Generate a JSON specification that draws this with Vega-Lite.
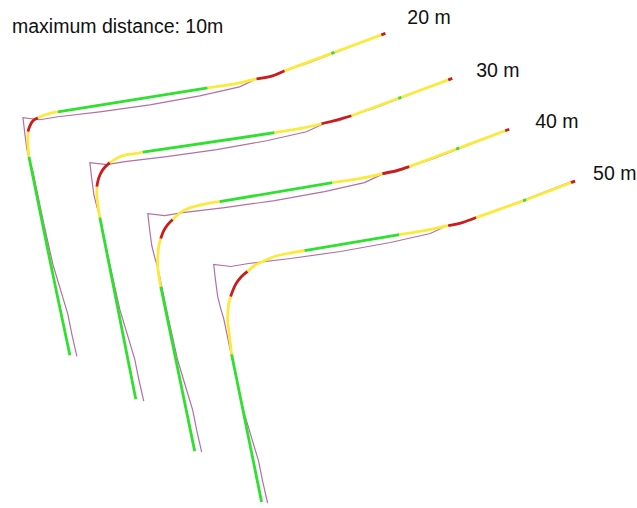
{
  "$schema": "https://vega.github.io/schema/vega-lite/v6.json",
  "width": 637,
  "height": 508,
  "autosize": {"type": "fit", "contains": "padding"},
  "padding": 0,
  "background": "white",
  "config": {"view": {"stroke": null}},
  "datasets": {
    "track": [
      {"c":1,"o":1,"x":77,"y":357},{"c":1,"o":2,"x":72,"y":335},{"c":1,"o":3,"x":68,"y":315},{"c":1,"o":4,"x":62,"y":295},{"c":1,"o":5,"x":53,"y":265},{"c":1,"o":6,"x":43,"y":220},{"c":1,"o":7,"x":33,"y":172},{"c":1,"o":8,"x":30,"y":162},{"c":1,"o":9,"x":27,"y":150},{"c":1,"o":10,"x":25,"y":135},{"c":1,"o":11,"x":23,"y":118},{"c":1,"o":12,"x":40,"y":120},{"c":1,"o":13,"x":58,"y":117},{"c":1,"o":14,"x":100,"y":112},{"c":1,"o":15,"x":150,"y":105},{"c":1,"o":16,"x":200,"y":96},{"c":1,"o":17,"x":240,"y":87},{"c":1,"o":18,"x":257,"y":79},{"c":1,"o":19,"x":273,"y":76},{"c":1,"o":20,"x":285,"y":71},{"c":1,"o":21,"x":309,"y":63},{"c":1,"o":22,"x":384,"y":34},
      {"c":2,"o":1,"x":144,"y":402},{"c":2,"o":2,"x":139,"y":380},{"c":2,"o":3,"x":135,"y":360},{"c":2,"o":4,"x":129,"y":340},{"c":2,"o":5,"x":120,"y":310},{"c":2,"o":6,"x":110,"y":265},{"c":2,"o":7,"x":100,"y":217},{"c":2,"o":8,"x":97,"y":207},{"c":2,"o":9,"x":94,"y":195},{"c":2,"o":10,"x":92,"y":180},{"c":2,"o":11,"x":90,"y":163},{"c":2,"o":12,"x":107,"y":165},{"c":2,"o":13,"x":125,"y":162},{"c":2,"o":14,"x":167,"y":157},{"c":2,"o":15,"x":217,"y":150},{"c":2,"o":16,"x":267,"y":141},{"c":2,"o":17,"x":307,"y":132},{"c":2,"o":18,"x":324,"y":124},{"c":2,"o":19,"x":340,"y":121},{"c":2,"o":20,"x":352,"y":116},{"c":2,"o":21,"x":376,"y":108},{"c":2,"o":22,"x":451,"y":79},
      {"c":3,"o":1,"x":202,"y":453},{"c":3,"o":2,"x":197,"y":431},{"c":3,"o":3,"x":193,"y":411},{"c":3,"o":4,"x":187,"y":391},{"c":3,"o":5,"x":178,"y":361},{"c":3,"o":6,"x":168,"y":316},{"c":3,"o":7,"x":158,"y":268},{"c":3,"o":8,"x":155,"y":258},{"c":3,"o":9,"x":152,"y":246},{"c":3,"o":10,"x":150,"y":231},{"c":3,"o":11,"x":148,"y":214},{"c":3,"o":12,"x":165,"y":216},{"c":3,"o":13,"x":183,"y":213},{"c":3,"o":14,"x":225,"y":208},{"c":3,"o":15,"x":275,"y":201},{"c":3,"o":16,"x":325,"y":192},{"c":3,"o":17,"x":365,"y":183},{"c":3,"o":18,"x":382,"y":175},{"c":3,"o":19,"x":398,"y":172},{"c":3,"o":20,"x":410,"y":167},{"c":3,"o":21,"x":434,"y":159},{"c":3,"o":22,"x":509,"y":130},
      {"c":4,"o":1,"x":268,"y":504},{"c":4,"o":2,"x":263,"y":482},{"c":4,"o":3,"x":259,"y":462},{"c":4,"o":4,"x":253,"y":442},{"c":4,"o":5,"x":244,"y":412},{"c":4,"o":6,"x":234,"y":367},{"c":4,"o":7,"x":224,"y":319},{"c":4,"o":8,"x":221,"y":309},{"c":4,"o":9,"x":218,"y":297},{"c":4,"o":10,"x":216,"y":282},{"c":4,"o":11,"x":214,"y":265},{"c":4,"o":12,"x":231,"y":267},{"c":4,"o":13,"x":249,"y":264},{"c":4,"o":14,"x":291,"y":259},{"c":4,"o":15,"x":341,"y":252},{"c":4,"o":16,"x":391,"y":243},{"c":4,"o":17,"x":431,"y":234},{"c":4,"o":18,"x":448,"y":226},{"c":4,"o":19,"x":464,"y":223},{"c":4,"o":20,"x":476,"y":218},{"c":4,"o":21,"x":500,"y":210},{"c":4,"o":22,"x":575,"y":181}
    ],
    "smooth": [
      {"s":"1a","k":"G","o":1,"x":70,"y":356},{"s":"1a","k":"G","o":2,"x":49,"y":256},{"s":"1a","k":"G","o":3,"x":29,"y":157},
      {"s":"1b","k":"Y","o":1,"x":29,"y":157},{"s":"1b","k":"Y","o":2,"x":28,"y":145},{"s":"1b","k":"Y","o":3,"x":28,"y":132},
      {"s":"1c","k":"R","o":1,"x":28,"y":132},{"s":"1c","k":"R","o":2,"x":30,"y":126},{"s":"1c","k":"R","o":3,"x":33,"y":121},{"s":"1c","k":"R","o":4,"x":38,"y":118},
      {"s":"1d","k":"Y","o":1,"x":38,"y":118},{"s":"1d","k":"Y","o":2,"x":45,"y":115},{"s":"1d","k":"Y","o":3,"x":52,"y":113},{"s":"1d","k":"Y","o":4,"x":58,"y":112},
      {"s":"1e","k":"G","o":1,"x":58,"y":112},{"s":"1e","k":"G","o":2,"x":208,"y":88},
      {"s":"1f","k":"Y","o":1,"x":208,"y":88},{"s":"1f","k":"Y","o":2,"x":235,"y":84},{"s":"1f","k":"Y","o":3,"x":257,"y":79},
      {"s":"1g","k":"R","o":1,"x":257,"y":79},{"s":"1g","k":"R","o":2,"x":273,"y":76},{"s":"1g","k":"R","o":3,"x":285,"y":71},
      {"s":"1h","k":"Y","o":1,"x":285,"y":71},{"s":"1h","k":"Y","o":2,"x":332,"y":53.5},
      {"s":"1i","k":"G","o":1,"x":332,"y":53.5},{"s":"1i","k":"G","o":2,"x":335,"y":52.3},
      {"s":"1j","k":"Y","o":1,"x":335,"y":52.3},{"s":"1j","k":"Y","o":2,"x":382,"y":35},
      {"s":"1k","k":"R","o":1,"x":382,"y":35},{"s":"1k","k":"R","o":2,"x":386,"y":33.5},

      {"s":"2a","k":"G","o":1,"x":136,"y":400},{"s":"2a","k":"G","o":2,"x":100,"y":218},
      {"s":"2b","k":"Y","o":1,"x":100,"y":218},{"s":"2b","k":"Y","o":2,"x":98,"y":205},{"s":"2b","k":"Y","o":3,"x":97,"y":195},{"s":"2b","k":"Y","o":4,"x":97,"y":187},
      {"s":"2c","k":"R","o":1,"x":97,"y":187},{"s":"2c","k":"R","o":2,"x":99,"y":178},{"s":"2c","k":"R","o":3,"x":103,"y":170},{"s":"2c","k":"R","o":4,"x":110,"y":163},
      {"s":"2d","k":"Y","o":1,"x":110,"y":163},{"s":"2d","k":"Y","o":2,"x":118,"y":158},{"s":"2d","k":"Y","o":3,"x":127,"y":155},{"s":"2d","k":"Y","o":4,"x":135,"y":154},{"s":"2d","k":"Y","o":5,"x":143,"y":152.5},
      {"s":"2e","k":"G","o":1,"x":143,"y":152.5},{"s":"2e","k":"G","o":2,"x":275,"y":133},
      {"s":"2f","k":"Y","o":1,"x":275,"y":133},{"s":"2f","k":"Y","o":2,"x":300,"y":129},{"s":"2f","k":"Y","o":3,"x":322,"y":124},
      {"s":"2g","k":"R","o":1,"x":322,"y":124},{"s":"2g","k":"R","o":2,"x":338,"y":120},{"s":"2g","k":"R","o":3,"x":352,"y":116},
      {"s":"2h","k":"Y","o":1,"x":352,"y":116},{"s":"2h","k":"Y","o":2,"x":399,"y":98.5},
      {"s":"2i","k":"G","o":1,"x":399,"y":98.5},{"s":"2i","k":"G","o":2,"x":402,"y":97.4},
      {"s":"2j","k":"Y","o":1,"x":402,"y":97.4},{"s":"2j","k":"Y","o":2,"x":449,"y":80},
      {"s":"2k","k":"R","o":1,"x":449,"y":80},{"s":"2k","k":"R","o":2,"x":453,"y":78.5},

      {"s":"3a","k":"G","o":1,"x":195,"y":452},{"s":"3a","k":"G","o":2,"x":161,"y":287},
      {"s":"3b","k":"Y","o":1,"x":161,"y":287},{"s":"3b","k":"Y","o":2,"x":158,"y":267},{"s":"3b","k":"Y","o":3,"x":159,"y":247},{"s":"3b","k":"Y","o":4,"x":161,"y":239},
      {"s":"3c","k":"R","o":1,"x":161,"y":239},{"s":"3c","k":"R","o":2,"x":164,"y":231},{"s":"3c","k":"R","o":3,"x":168,"y":225},{"s":"3c","k":"R","o":4,"x":173,"y":220},
      {"s":"3d","k":"Y","o":1,"x":173,"y":220},{"s":"3d","k":"Y","o":2,"x":182,"y":212},{"s":"3d","k":"Y","o":3,"x":194,"y":207},{"s":"3d","k":"Y","o":4,"x":207,"y":204},{"s":"3d","k":"Y","o":5,"x":220,"y":202},
      {"s":"3e","k":"G","o":1,"x":220,"y":202},{"s":"3e","k":"G","o":2,"x":333,"y":183},
      {"s":"3f","k":"Y","o":1,"x":333,"y":183},{"s":"3f","k":"Y","o":2,"x":360,"y":179},{"s":"3f","k":"Y","o":3,"x":383,"y":174},
      {"s":"3g","k":"R","o":1,"x":383,"y":174},{"s":"3g","k":"R","o":2,"x":397,"y":171},{"s":"3g","k":"R","o":3,"x":410,"y":167},
      {"s":"3h","k":"Y","o":1,"x":410,"y":167},{"s":"3h","k":"Y","o":2,"x":457,"y":149.3},
      {"s":"3i","k":"G","o":1,"x":457,"y":149.3},{"s":"3i","k":"G","o":2,"x":460,"y":148.2},
      {"s":"3j","k":"Y","o":1,"x":460,"y":148.2},{"s":"3j","k":"Y","o":2,"x":506,"y":131},
      {"s":"3k","k":"R","o":1,"x":506,"y":131},{"s":"3k","k":"R","o":2,"x":510,"y":129.5},

      {"s":"4a","k":"G","o":1,"x":262,"y":503},{"s":"4a","k":"G","o":2,"x":232,"y":355},
      {"s":"4b","k":"Y","o":1,"x":232,"y":355},{"s":"4b","k":"Y","o":2,"x":229,"y":330},{"s":"4b","k":"Y","o":3,"x":228,"y":320},{"s":"4b","k":"Y","o":4,"x":229,"y":305},{"s":"4b","k":"Y","o":5,"x":231,"y":297},
      {"s":"4c","k":"R","o":1,"x":231,"y":297},{"s":"4c","k":"R","o":2,"x":236,"y":285},{"s":"4c","k":"R","o":3,"x":241,"y":278},{"s":"4c","k":"R","o":4,"x":248,"y":272},
      {"s":"4d","k":"Y","o":1,"x":248,"y":272},{"s":"4d","k":"Y","o":2,"x":255,"y":266},{"s":"4d","k":"Y","o":3,"x":263,"y":262},{"s":"4d","k":"Y","o":4,"x":275,"y":257},{"s":"4d","k":"Y","o":5,"x":288,"y":254},{"s":"4d","k":"Y","o":6,"x":305,"y":251},
      {"s":"4e","k":"G","o":1,"x":305,"y":251},{"s":"4e","k":"G","o":2,"x":400,"y":235},
      {"s":"4f","k":"Y","o":1,"x":400,"y":235},{"s":"4f","k":"Y","o":2,"x":425,"y":231},{"s":"4f","k":"Y","o":3,"x":449,"y":226},
      {"s":"4g","k":"R","o":1,"x":449,"y":226},{"s":"4g","k":"R","o":2,"x":463,"y":223},{"s":"4g","k":"R","o":3,"x":477,"y":218},
      {"s":"4h","k":"Y","o":1,"x":477,"y":218},{"s":"4h","k":"Y","o":2,"x":524,"y":201.3},
      {"s":"4i","k":"G","o":1,"x":524,"y":201.3},{"s":"4i","k":"G","o":2,"x":527,"y":200.2},
      {"s":"4j","k":"Y","o":1,"x":527,"y":200.2},{"s":"4j","k":"Y","o":2,"x":572,"y":183},
      {"s":"4k","k":"R","o":1,"x":572,"y":183},{"s":"4k","k":"R","o":2,"x":576,"y":181.5}
    ],
    "labels": [
      {"t":"maximum distance: 10m","x":12,"y":33},
      {"t":"20 m","x":408,"y":24},
      {"t":"30 m","x":477,"y":77},
      {"t":"40 m","x":536,"y":128},
      {"t":"50 m","x":594,"y":180}
    ]
  },
  "layer": [
    {
      "data": {"name": "track"},
      "mark": {"type": "line", "stroke": "#b46fa4", "strokeWidth": 1.2, "interpolate": "linear"},
      "encoding": {
        "x": {"field": "x", "type": "quantitative", "scale": {"domain": [0, 637], "nice": false, "zero": false}, "axis": null},
        "y": {"field": "y", "type": "quantitative", "scale": {"domain": [0, 508], "nice": false, "zero": false, "reverse": true}, "axis": null},
        "detail": {"field": "c", "type": "nominal"},
        "order": {"field": "o", "type": "quantitative"}
      }
    },
    {
      "data": {"name": "smooth"},
      "mark": {"type": "line", "strokeWidth": 2.8, "interpolate": "catmull-rom"},
      "encoding": {
        "x": {"field": "x", "type": "quantitative"},
        "y": {"field": "y", "type": "quantitative"},
        "detail": {"field": "s", "type": "nominal"},
        "order": {"field": "o", "type": "quantitative"},
        "color": {"field": "k", "type": "nominal", "scale": {"domain": ["G", "Y", "R"], "range": ["#2fe02f", "#fbea3c", "#cc1b1b"]}, "legend": null}
      }
    },
    {
      "data": {"name": "labels"},
      "mark": {"type": "text", "align": "left", "baseline": "alphabetic", "font": "Liberation Sans", "fontSize": 19.5, "color": "#111111"},
      "encoding": {
        "x": {"field": "x", "type": "quantitative"},
        "y": {"field": "y", "type": "quantitative"},
        "text": {"field": "t", "type": "nominal"}
      }
    }
  ]
}
